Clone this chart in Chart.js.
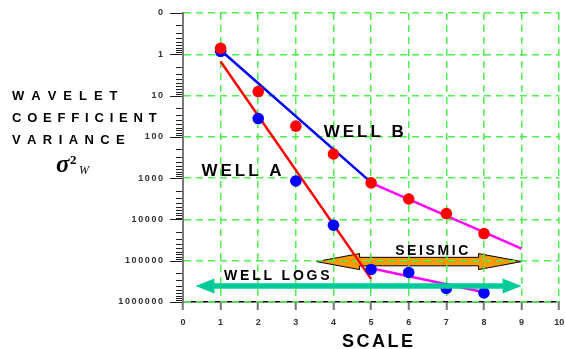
<!DOCTYPE html>
<html>
<head>
<meta charset="utf-8">
<script src="https://cdn.jsdelivr.net/npm/chart.js@4/dist/chart.umd.min.js"></script>
<style>
  html, body { margin: 0; padding: 0; background: #fff; }
  #wrap { width: 565px; height: 349px; position: relative; }
</style>
</head>
<body>
<div id="wrap"><canvas id="wavelet-chart"></canvas></div>
<script>
// scale (x) and wavelet coefficient variance
var scaleSteps = [1, 2, 3, 4, 5, 6, 7, 8];
var wellAVariance = [0.85, 36, 1170, 13800, 163000, 193000, 471000, 602000];
var wellBVariance = [0.72, 8, 55, 260, 1300, 3200, 7200, 22000];

// fitted trend lines
var wellAFitX = [1, 5];
var wellAFitY = [1.5, 275000];
var wellBFitX = [1, 5];
var wellBFitY = [0.8, 1270];
var wellBSeisX = [5, 9];
var wellBSeisY = [1300, 50700];
var wellASeisX = [5, 8];
var wellASeisY = [152000, 580000];

// range arrows: [from scale, to scale], level on the variance axis
var seismicRange = [3.55, 9];
var seismicLevel = 105000;
var wellLogRange = [0.33, 9];
var wellLogLevel = 410000;

var xTicks = [0, 1, 2, 3, 4, 5, 6, 7, 8, 9, 10];
var yTicks = [0.1, 1, 10, 100, 1000, 10000, 100000, 1000000];
var yTickLabels = ['0', '1', '10', '100', '1000', '10000', '100000', '1000000'];

var gridGreen = '#4ef04e';
var tickFont = 'bold 9px Arial, "Liberation Sans", sans-serif';

function pairs(xs, ys) {
    return xs.map(function (x, i) { return {x: x, y: ys[i]}; });
}

function isMajor(v) {
    return yTicks.some(function (t) { return Math.abs(Math.log10(v) - Math.log10(t)) < 1e-6; });
}

function spacedWidth(ctx, text, spacing) {
    var w = 0;
    for (var i = 0; i < text.length; i++) w += ctx.measureText(text[i]).width;
    return w + spacing * (text.length - 1);
}

function spacedText(ctx, text, x, y, font, spacing, color, alignRight) {
    ctx.save();
    ctx.font = font;
    ctx.fillStyle = color || '#000';
    ctx.textBaseline = 'middle';
    ctx.textAlign = 'left';
    var cx = alignRight ? x - spacedWidth(ctx, text, spacing) : x;
    for (var i = 0; i < text.length; i++) {
        ctx.fillText(text[i], cx, y);
        cx += ctx.measureText(text[i]).width + spacing;
    }
    ctx.restore();
}

function drawArrow(ctx, x1, x2, yc, shaft, headL, headH, fill, stroke) {
    ctx.save();
    ctx.beginPath();
    ctx.moveTo(x1, yc);
    ctx.lineTo(x1 + headL, yc - headH / 2);
    ctx.lineTo(x1 + headL, yc - shaft / 2);
    ctx.lineTo(x2 - headL, yc - shaft / 2);
    ctx.lineTo(x2 - headL, yc - headH / 2);
    ctx.lineTo(x2, yc);
    ctx.lineTo(x2 - headL, yc + headH / 2);
    ctx.lineTo(x2 - headL, yc + shaft / 2);
    ctx.lineTo(x1 + headL, yc + shaft / 2);
    ctx.lineTo(x1 + headL, yc + headH / 2);
    ctx.closePath();
    ctx.fillStyle = fill;
    ctx.fill();
    if (stroke) {
        ctx.lineWidth = 1;
        ctx.strokeStyle = stroke;
        ctx.stroke();
    }
    ctx.restore();
}

var decorations = {
    id: 'decorations',
    beforeDraw: function (chart) {
        var ctx = chart.ctx, x = chart.scales.x, y = chart.scales.y;
        // seismic band sits under the grid
        drawArrow(ctx, x.getPixelForValue(seismicRange[0]), x.getPixelForValue(seismicRange[1]),
            y.getPixelForValue(seismicLevel), 8.5, 43, 16, '#ff9900', '#000');
    },
    afterDatasetsDraw: function (chart) {
        var ctx = chart.ctx, x = chart.scales.x, y = chart.scales.y;
        // well logs range
        drawArrow(ctx, x.getPixelForValue(wellLogRange[0]), x.getPixelForValue(wellLogRange[1]),
            y.getPixelForValue(wellLogLevel), 5.5, 19, 15, '#00cc99', null);
    },
    afterDraw: function (chart) {
        var ctx = chart.ctx, x = chart.scales.x, y = chart.scales.y, a = chart.chartArea;
        // log tick marks on the left of the y axis
        ctx.save();
        ctx.strokeStyle = '#222';
        ctx.lineWidth = 1;
        for (var e = -1; e < 6; e++) {
            for (var k = 1; k < 10; k++) {
                var v = k * Math.pow(10, e);
                var py = Math.round(y.getPixelForValue(v)) + 0.5;
                ctx.beginPath();
                ctx.moveTo(a.left - (k === 1 ? 13 : 7), py);
                ctx.lineTo(a.left - 1, py);
                ctx.stroke();
            }
        }
        var pyEnd = Math.round(y.getPixelForValue(1000000)) + 0.5;
        ctx.beginPath();
        ctx.moveTo(a.left - 13, pyEnd);
        ctx.lineTo(a.left - 1, pyEnd);
        ctx.stroke();
        ctx.restore();

        // y tick labels, widely spaced digits
        yTicks.forEach(function (t, i) {
            spacedText(ctx, yTickLabels[i], a.left - 20, y.getPixelForValue(t), tickFont, 1.6, '#333', true);
        });

        // in-plot labels
        var big = 'bold 17px Arial, "Liberation Sans", sans-serif';
        var mid = 'bold 14px Arial, "Liberation Sans", sans-serif';
        spacedText(ctx, 'WELL B', x.getPixelForValue(3.74), y.getPixelForValue(77), big, 3);
        spacedText(ctx, 'WELL A', x.getPixelForValue(0.49), y.getPixelForValue(680), big, 3);
        spacedText(ctx, 'SEISMIC', x.getPixelForValue(5.64), y.getPixelForValue(59000), mid, 2.6);
        spacedText(ctx, 'WELL LOGS', x.getPixelForValue(1.09), y.getPixelForValue(237000), mid, 2.8);

        // axis titles
        spacedText(ctx, 'SCALE', a.left + 159, a.bottom + 40, 'bold 18px Arial, "Liberation Sans", sans-serif', 2.5);
        var side = 'bold 13px Arial, "Liberation Sans", sans-serif';
        spacedText(ctx, 'WAVELET', 12, 96, side, 7);
        spacedText(ctx, 'COEFFICIENT', 12, 118, side, 5.8);
        spacedText(ctx, 'VARIANCE', 12, 140, side, 6.4);

        ctx.save();
        ctx.fillStyle = '#000';
        ctx.textBaseline = 'alphabetic';
        ctx.font = 'bold italic 25px "Liberation Serif", "Times New Roman", serif';
        ctx.fillText('\u03c3', 56, 172);
        ctx.font = 'bold 13px "Liberation Serif", "Times New Roman", serif';
        ctx.fillText('2', 70, 164);
        ctx.font = 'italic 12px "Liberation Serif", "Times New Roman", serif';
        ctx.fillText('W', 79, 174);
        ctx.restore();
    }
};

var lineStyle = function (label, data, color) {
    return {
        label: label,
        data: data,
        borderColor: color,
        backgroundColor: color,
        borderWidth: 2.5,
        pointRadius: 0,
        showLine: true,
        order: 3
    };
};

var dotStyle = function (label, data, color, order) {
    return {
        label: label,
        data: data,
        borderColor: color,
        backgroundColor: color,
        pointRadius: 5.8,
        pointBorderWidth: 0,
        showLine: false,
        order: order
    };
};

new Chart(document.getElementById('wavelet-chart'), {
    type: 'scatter',
    data: {
        datasets: [
            lineStyle('Well A fit', pairs(wellAFitX, wellAFitY), '#ff0000'),
            lineStyle('Well B fit', pairs(wellBFitX, wellBFitY), '#0000ff'),
            lineStyle('Well B seismic', pairs(wellBSeisX, wellBSeisY), '#ff00ff'),
            lineStyle('Well A seismic', pairs(wellASeisX, wellASeisY), '#ff00ff'),
            dotStyle('Well A', pairs(scaleSteps, wellAVariance), '#0000ff', 2),
            dotStyle('Well B', pairs(scaleSteps, wellBVariance), '#ff0000', 1)
        ]
    },
    options: {
        responsive: true,
        maintainAspectRatio: false,
        animation: false,
        layout: {padding: {left: 0, top: 13, right: 2, bottom: 0}},
        plugins: {legend: {display: false}, tooltip: {enabled: false}},
        scales: {
            x: {
                type: 'linear',
                min: 0,
                max: 10,
                afterBuildTicks: function (scale) {
                    scale.ticks = xTicks.map(function (v) { return {value: v}; });
                },
                afterFit: function (scale) {
                    scale.height = 47;
                    scale.paddingLeft = 0;
                    scale.paddingRight = 0;
                },
                ticks: {
                    padding: 7,
                    color: '#333',
                    font: {family: 'Arial, "Liberation Sans", sans-serif', size: 9, weight: 'bold'},
                    maxRotation: 0
                },
                grid: {
                    color: gridGreen,
                    lineWidth: 1.5,
                    drawTicks: true,
                    tickLength: 8,
                    tickColor: '#777',
                    tickWidth: 2,
                    tickBorderDash: []
                },
                border: {display: true, color: '#000', width: 1.5, dash: [7, 5], z: -1}
            },
            y: {
                type: 'logarithmic',
                reverse: true,
                min: 0.1,
                max: 1000000,
                afterFit: function (scale) {
                    scale.width = 183;
                    scale.paddingTop = 0;
                    scale.paddingBottom = 0;
                },
                ticks: {
                    display: false,
                    autoSkip: false
                },
                grid: {
                    color: function (c) {
                        return c.tick && isMajor(c.tick.value) ? gridGreen : 'rgba(0,0,0,0)';
                    },
                    lineWidth: 1.5,
                    drawTicks: false
                },
                border: {display: true, color: '#777', width: 2, dash: [7, 5]}
            }
        }
    },
    plugins: [decorations]
});
</script>
</body>
</html>
